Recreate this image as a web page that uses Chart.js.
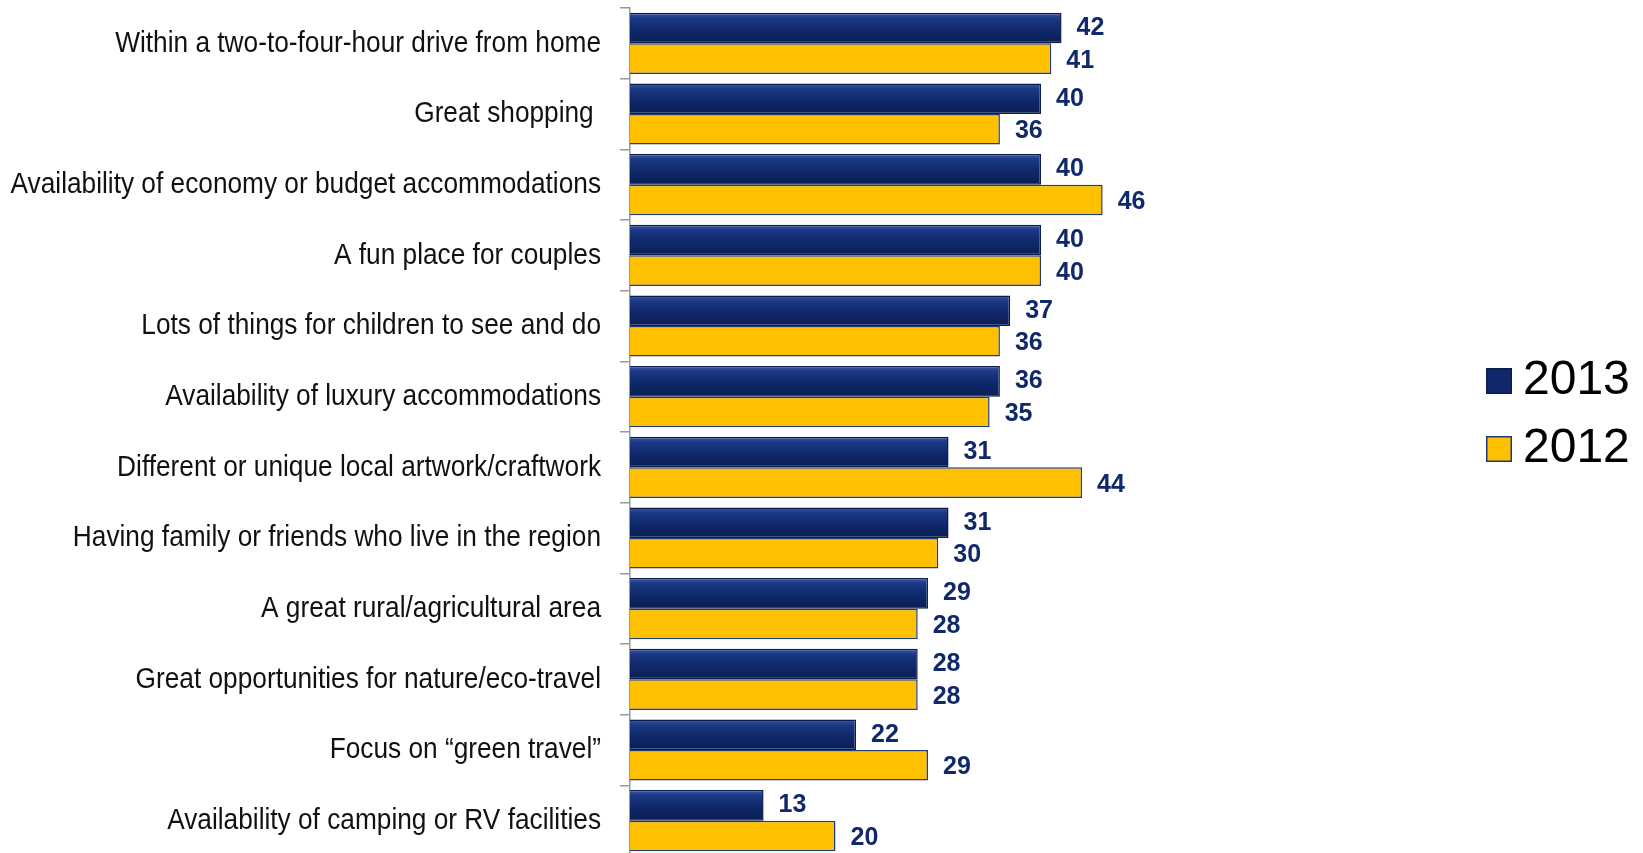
<!DOCTYPE html>
<html>
<head>
<meta charset="utf-8">
<script src="https://cdn.jsdelivr.net/npm/chart.js@4"></script>
<style>
html,body{margin:0;padding:0;background:#fff;overflow:hidden;}
#wrap{position:absolute;left:0;top:0;width:1643px;height:860px;}
</style>
</head>
<body>
<div id="wrap"><canvas id="c" width="1643" height="860"></canvas></div>
<script>
const categories = [
  "Within a two-to-four-hour drive from home",
  "Great shopping ",
  "Availability of economy or budget accommodations",
  "A fun place for couples",
  "Lots of things for children to see and do",
  "Availability of luxury accommodations",
  "Different or unique local artwork/craftwork",
  "Having family or friends who live in the region",
  "A great rural/agricultural area",
  "Great opportunities for nature/eco-travel",
  "Focus on \u201cgreen travel\u201d",
  "Availability of camping or RV facilities"
];
const seriesNames = ["2013", "2012"];
const values2013 = [42, 40, 40, 40, 37, 36, 31, 31, 29, 28, 22, 13];
const values2012 = [41, 36, 46, 40, 36, 35, 44, 30, 28, 28, 29, 20];

const NAVY = '#10296b';
const NAVY_EDGE = '#0a1d4d';
const GOLD = '#ffc000';
const GOLD_EDGE = '#1f3a7a';
const LABEL_COLOR = '#10296b';
const CAT_PCT = 0.865;

function navyFill(context) {
  const chart = context.chart;
  const ys = chart.scales && chart.scales.y;
  if (!ys || context.type !== 'data') return NAVY;
  const yc = ys.getPixelForValue(context.dataIndex);
  const h = (ys.height / categories.length) * CAT_PCT;
  const top = yc - h / 2, bot = yc;
  if (!isFinite(top) || !isFinite(bot) || bot <= top) return NAVY;
  const g = chart.ctx.createLinearGradient(0, top, 0, bot);
  g.addColorStop(0, '#3b5aa6');
  g.addColorStop(0.18, '#1b3884');
  g.addColorStop(0.55, '#10296b');
  g.addColorStop(1, '#0a1e52');
  return g;
}

const catLabels = {
  id: 'catLabels',
  afterDraw(chart) {
    const ctx = chart.ctx;
    const ys = chart.scales.y;
    ctx.save();
    ctx.font = '30px "Liberation Sans", Arial, sans-serif';
    ctx.fillStyle = '#111';
    ctx.textAlign = 'right';
    ctx.textBaseline = 'middle';
    const sx = 0.875;
    const rightX = 601;
    categories.forEach((lab, i) => {
      const y = ys.getPixelForValue(i);
      ctx.save();
      ctx.translate(rightX, y);
      ctx.scale(sx, 1);
      ctx.fillText(lab, 0, 0);
      ctx.restore();
    });
    ctx.restore();
  }
};

const valueLabels = {
  id: 'valueLabels',
  afterDatasetsDraw(chart) {
    const ctx = chart.ctx;
    ctx.save();
    ctx.font = 'bold 25px "Liberation Sans", Arial, sans-serif';
    ctx.fillStyle = LABEL_COLOR;
    ctx.textAlign = 'left';
    ctx.textBaseline = 'middle';
    chart.data.datasets.forEach((ds, di) => {
      const meta = chart.getDatasetMeta(di);
      meta.data.forEach((bar, i) => {
        ctx.fillText(String(ds.data[i]), bar.x + 15, bar.y + (di === 1 ? 2 : 0));
      });
    });
    ctx.restore();
  }
};

const customLegend = {
  id: 'customLegend',
  afterDraw(chart) {
    const ctx = chart.ctx;
    ctx.save();
    const items = [
      {text: seriesNames[0], fill: NAVY, edge: NAVY_EDGE, y: 381},
      {text: seriesNames[1], fill: GOLD, edge: GOLD_EDGE, y: 449}
    ];
    const bx = 1486, bs = 26;
    items.forEach(it => {
      ctx.fillStyle = it.fill;
      ctx.fillRect(bx, it.y - bs/2, bs, bs);
      ctx.lineWidth = 1.5;
      ctx.strokeStyle = it.edge;
      ctx.strokeRect(bx + 0.75, it.y - bs/2 + 0.75, bs - 1.5, bs - 1.5);
      ctx.fillStyle = '#000';
      ctx.font = '48px "Liberation Sans", Arial, sans-serif';
      ctx.textAlign = 'left';
      ctx.textBaseline = 'middle';
      ctx.fillText(it.text, 1523, it.y);
    });
    ctx.restore();
  }
};

new Chart(document.getElementById('c'), {
  type: 'bar',
  data: {
    labels: categories,
    datasets: [
      {label: seriesNames[0], data: values2013, backgroundColor: navyFill, borderColor: NAVY_EDGE, borderWidth: 1.5, categoryPercentage: CAT_PCT, barPercentage: 1.0},
      {label: seriesNames[1], data: values2012, backgroundColor: GOLD, borderColor: GOLD_EDGE, borderWidth: 1.5, categoryPercentage: CAT_PCT, barPercentage: 1.0}
    ]
  },
  options: {
    indexAxis: 'y',
    responsive: false,
    animation: false,
    devicePixelRatio: 1,
    layout: {autoPadding: false, padding: {top: 8, bottom: 4, left: 0, right: 191}},
    plugins: {legend: {display: false}, tooltip: {enabled: false}},
    scales: {
      x: {display: false, min: 0, max: 80},
      y: {
        afterFit(scale) { scale.width = 630; },
        grid: {display: true, offset: true, drawOnChartArea: false, drawTicks: true, tickLength: 10, color: '#999', lineWidth: 1.5},
        border: {display: true, color: '#999', width: 1.5},
        ticks: {display: false}
      }
    }
  },
  plugins: [catLabels, valueLabels, customLegend]
});
</script>
</body>
</html>
